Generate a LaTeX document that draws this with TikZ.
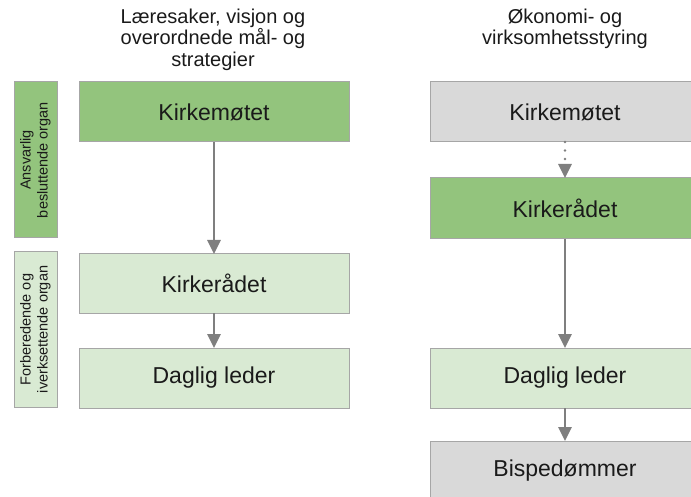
\documentclass[tikz,border=0pt]{standalone}
\usepackage{fontspec}
\setmainfont{Liberation Sans}
\usetikzlibrary{arrows.meta}
\definecolor{dgreen}{HTML}{93C47D}
\definecolor{lgreen}{HTML}{D9EAD3}
\definecolor{lgray}{HTML}{D9D9D9}
\definecolor{bordergray}{HTML}{A6A6A6}
\definecolor{arrowgray}{HTML}{7F7F7F}
\definecolor{txt}{HTML}{1A1A1A}
\tikzset{
  mainbox/.style={draw=bordergray, line width=1pt, minimum width=270pt, minimum height=60pt,
    inner sep=0pt, outer sep=0pt, text=txt, font=\fontsize{23}{26}\selectfont},
  sidebox/.style={draw=bordergray, line width=1pt, minimum width=43pt,
    inner sep=0pt, outer sep=0pt},
  sidetext/.style={rotate=90, align=center, text=txt, font=\fontsize{14.5}{17}\selectfont},
  heading/.style={align=center, text=txt, font=\fontsize{20}{21.5}\selectfont},
  conn/.style={draw=arrowgray, line width=2.6pt, -{Triangle[width=13pt,length=14pt]}},
  dotconn/.style={draw=arrowgray, line width=2.6pt, dash pattern=on 0pt off 8.5pt, line cap=round,
    -{Triangle[width=13pt,length=14pt,line cap=butt]}}
}
\begin{document}
\begin{tikzpicture}[x=1pt,y=-1pt]
\clip (0,0) rectangle (691,497);
\useasboundingbox (0,0) rectangle (691,497);
% headings
\node[heading] (h1) at (213,39.5) {Læresaker, visjon og\\overordnede mål- og\\strategier};
\node[heading] (h2) at (565,29) {Økonomi- og\\virksomhetsstyring};
% side boxes
\node[sidebox, fill=dgreen, minimum height=156pt] (s1) at (35.5,160) {};
\node[sidetext] (s1t) at (s1.center) {Ansvarlig\\besluttende organ};
\node[sidebox, fill=lgreen, minimum height=155pt] (s2) at (35.5,329.5) {};
\node[sidetext] (s2t) at (s2.center) {Forberedende og\\iverksettende organ};
% left column
\node[mainbox, fill=dgreen] (lk) at (214,112) {Kirkemøtet};
\node[mainbox, fill=lgreen, minimum height=59pt] (lr) at (214,283.5) {Kirkerådet};
\node[mainbox, fill=lgreen] (ld) at (214,378) {Daglig leder};
% right column
\node[mainbox, fill=lgray] (rk) at (565,112) {Kirkemøtet};
\node[mainbox, fill=dgreen, minimum height=61pt] (rr) at (565,208.5) {Kirkerådet};
\node[mainbox, fill=lgreen] (rd) at (565,378) {Daglig leder};
\node[mainbox, fill=lgray] (rb) at (565,471) {Bispedømmer};
% connectors
\draw[conn] (lk.south) -- (lr.north);
\draw[conn] (lr.south) -- (ld.north);
\draw[dotconn] (rk.south) -- (rr.north);
\draw[conn] (rr.south) -- (rd.north);
\draw[conn] (rd.south) -- (rb.north);
\end{tikzpicture}
\end{document}
